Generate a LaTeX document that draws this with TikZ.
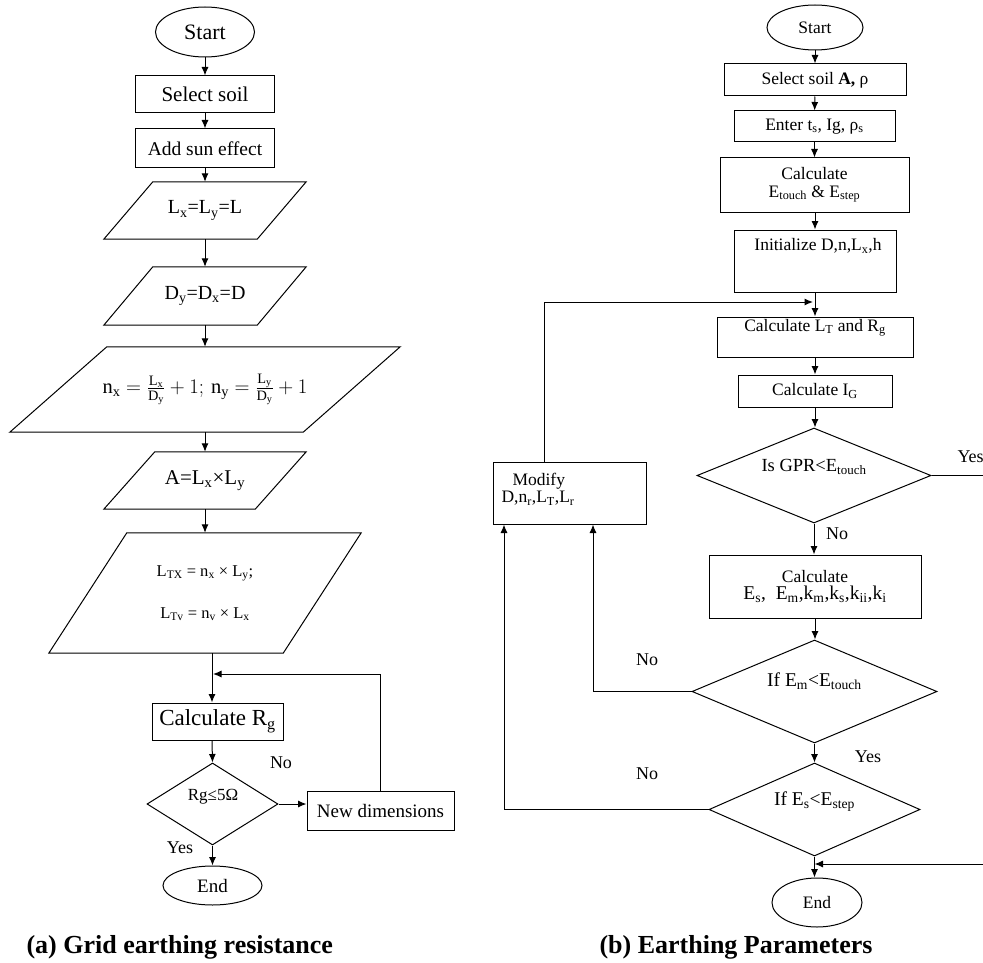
\documentclass[tikz,border=0pt]{standalone}
\usepackage{fontspec}
\setmainfont{Liberation Serif}
\usetikzlibrary{shapes.geometric,arrows.meta,calc}
\newcommand{\sbs}[1]{\textsubscript{#1}}
\newcommand{\fs}[1]{\fontsize{#1}{#1}\selectfont}
\newcommand{\myparallel}[7]{%
  \node[minimum width=#4pt, minimum height=#5pt, inner sep=0pt, align=center, lf] (#1) at (#2,#3) {#7};
  \draw[ln] ($(#1.north west)+(#6pt,0pt)$) -- (#1.north east) -- ($(#1.south east)-(#6pt,0pt)$) -- (#1.south west) -- cycle;}
\begin{document}
\begin{tikzpicture}[x=1pt,y=-1pt,
  ln/.style={line width=1pt},
  arr/.style={line width=1pt,-{Latex[length=8.5pt,width=7pt]}},
  lf/.style={font=\fs{20}},
  rf/.style={font=\fs{17.5}},
  lab/.style={font=\fs{18}},
  box/.style={draw,line width=1pt,inner sep=0pt,align=center},
  oval/.style={draw,ellipse,line width=1pt,inner sep=0pt},
  dia/.style={draw,diamond,line width=1pt,inner sep=0pt},
  captxt/.style={anchor=base west,font=\bfseries\fs{26}}]
\useasboundingbox (0,0) rectangle (983,963);

% ---------------- left flowchart ----------------
\node[oval,font=\fs{22},minimum width=99pt,minimum height=50pt] (start) at (205,32) {Start};
\node[box,font=\fs{21},minimum width=139pt,minimum height=37pt] (soil) at (205,94.5) {Select soil};
\node[box,font=\fs{19.5},minimum width=139pt,minimum height=39pt] (sun) at (205,148.5) {Add sun effect};
\myparallel{pL}{205}{210.5}{202}{57}{49}{L\sbs{x}=L\sbs{y}=L}
\myparallel{pD}{205}{296}{202}{58}{49}{D\sbs{y}=D\sbs{x}=D}
\myparallel{pN}{205}{389.5}{390}{85}{97}{\fs{20.5}$\mathrm{n_x}=\frac{\mathrm{L_x}}{\mathrm{D_y}}+1;\,\mathrm{n_y}=\frac{\mathrm{L_y}}{\mathrm{D_y}}+1$}
\myparallel{pA}{205}{480.5}{202}{57}{51}{\fs{21}A=L\sbs{x}×L\sbs{y}}
\myparallel{pT}{205}{593}{312}{120}{78}{\fs{16.5}L\sbs{TX} = n\sbs{x} × L\sbs{y};\\[22pt]\fs{16.5}L\sbs{Tv} = n\sbs{v} × L\sbs{x}}
\node[box,font=\fs{23},minimum width=131pt,minimum height=37pt] (rg) at (217.5,721.5) {Calculate R\sbs{g}};
\node[dia,minimum width=131pt,minimum height=82pt] (dec) at (212.5,804) {};
\node[font=\fs{17}] (dect) at (213,797) {Rg≤5Ω};
\node[box,font=\fs{19},minimum width=147pt,minimum height=39pt] (nd) at (380.5,810.5) {New dimensions};
\node[oval,font=\fs{19},minimum width=99pt,minimum height=39pt] (end) at (212.5,885.5) {End};
\coordinate (col) at (212,0);
\coordinate (loopL) at (213,674);

\draw[arr] (start) -- (soil);
\draw[arr] (soil) -- (sun);
\draw[arr] (sun) -- (pL);
\draw[arr] (pL) -- (pD);
\draw[arr] (pD) -- (pN);
\draw[arr] (pN) -- (pA);
\draw[arr] (pA) -- (pT);
\draw[arr] (pT.south -| col) -- (rg.north -| col);
\draw[arr] (rg.south -| col) -- (dec.north);
\draw[arr] (dec.east) -- (dec.east -| nd.west);
\draw[arr] (nd.north) |- (loopL);
\draw[arr] (dec.south) -- (end.north);
\node[lab] (lno) at (281,763) {No};
\node[lab] (lyes) at (180,848) {Yes};

% ---------------- right flowchart ----------------
\node[oval,rf,minimum width=96pt,minimum height=45pt] (rstart) at (815,27.5) {Start\\[6pt]};
\node[box,rf,minimum width=182pt,minimum height=32pt] (rsoil) at (815,80) {Select soil \textbf{A,} ρ};
\node[box,rf,minimum width=161pt,minimum height=31pt] (renter) at (814.5,126.5) {Enter t\sbs{s}, Ig, ρ\sbs{s}};
\node[box,rf,minimum width=189pt,minimum height=54pt] (rcalc) at (814.5,185) {Calculate\\E\sbs{touch} \& E\sbs{step}};
\node[box,minimum width=162pt,minimum height=62pt] (rinit) at (815,261) {};
\node[rf,anchor=north] (rinitt) at (818,235) {Initialize D,n,L\sbs{x},h};
\node[box,rf,minimum width=196pt,minimum height=40pt] (rlt) at (815,337) {Calculate L\sbs{T} and R\sbs{g}\\[6pt]};
\node[box,rf,minimum width=154pt,minimum height=32pt] (rig) at (815,391) {Calculate I\sbs{G}};
\node[dia,minimum width=234pt,minimum height=95pt] (rgpr) at (814,475.5) {};
\node[font=\fs{18.5}] (rgprt) at (814,467) {Is GPR<E\sbs{touch}};
\node[box,minimum width=153pt,minimum height=62pt] (rmod) at (569.5,493) {};
\node[rf,anchor=west,align=left] (rmodt) at (498,489) {\hspace{11pt}Modify\\D,n\sbs{r},L\sbs{T},L\sbs{r}};
\node[box,rf,minimum width=212pt,minimum height=63pt] (res) at (815,586.5) {Calculate\\\fs{19.5}E\sbs{s}, \ E\sbs{m},k\sbs{m},k\sbs{s},k\sbs{ii},k\sbs{i}};
\node[dia,minimum width=245pt,minimum height=103pt] (rem) at (814.5,691.5) {};
\node[font=\fs{19.5}] (remt) at (814.5,681) {If E\sbs{m}<E\sbs{touch}};
\node[dia,minimum width=211pt,minimum height=93pt] (rstep) at (814.5,809.5) {};
\node[font=\fs{19.5}] (rstept) at (814.5,802) {If E\sbs{s}<E\sbs{step}};
\node[oval,rf,minimum width=90pt,minimum height=49pt] (rend) at (817,902.5) {End};

\coordinate (rloopL) at (544,302);
\coordinate (rloopR) at (813,302);
\coordinate (cB) at (593,691.5);
\coordinate (cA) at (504,809.5);
\coordinate (offA) at (1000,475.5);
\coordinate (offB) at (1000,864);

\draw[arr] (rstart) -- (rsoil);
\draw[arr] (rsoil) -- (renter);
\draw[arr] (renter.south) -- (renter.south |- rcalc.north);
\draw[arr] (rcalc.south -| rinit.south) -- (rinit.north);
\draw[arr] (rinit) -- (rlt);
\draw[arr] (rmod.north -| rloopL) -- (rloopL) -- (rloopR);
\draw[arr] (rlt) -- (rig);
\draw[arr] (rig.south) -- (rig.south |- rgpr.north);
\draw[arr] (rgpr.south) -- (rgpr.south |- res.north);
\draw[arr] (res.south) -- (res.south |- rem.north);
\draw[arr] (rem.south) -- (rstep.north);
\draw[arr] (rstep.south) -- (rstep.south |- rend.north);
\draw[ln] (rgpr.east) -- (offA) -- (offB);
\draw[arr] (offB) -- (offB -| rstep.south);
\draw[arr] (rem.west) -- (cB) -- (cB |- rmod.south);
\draw[arr] (rstep.west) -- (cA) -- (cA |- rmod.south);
\node[lab] (rno1) at (837,534) {No};
\node[lab] (rno2) at (647,660) {No};
\node[lab] (rno3) at (647,774) {No};
\node[lab] (ryes1) at (868,757) {Yes};
\node[lab,anchor=west] (ryes2) at (954,457) {Yes};

% captions
\node[captxt] (capa) at (23,953) {(a) Grid earthing resistance};
\node[captxt] (capb) at (596,953) {(b) Earthing Parameters};
\end{tikzpicture}
\end{document}
